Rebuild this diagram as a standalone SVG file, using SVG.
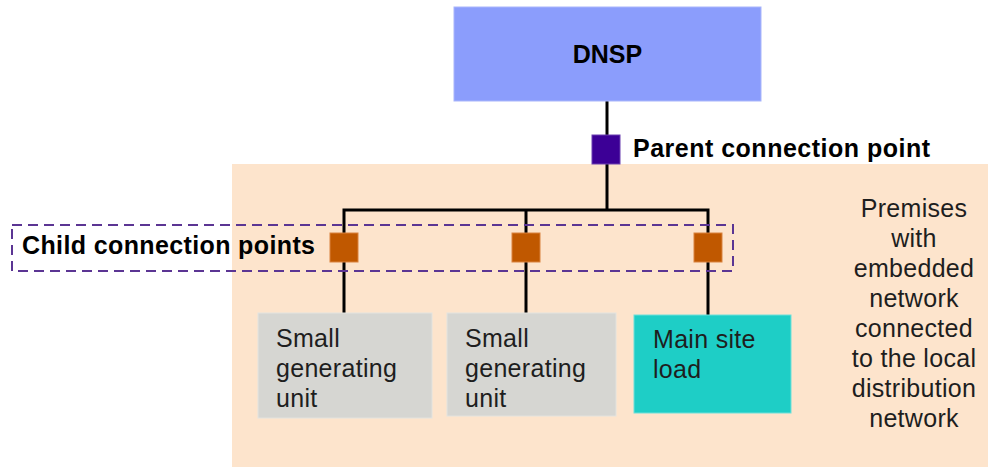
<svg xmlns="http://www.w3.org/2000/svg" width="988" height="467" viewBox="0 0 988 467">
<style>
.b{font-family:"Liberation Sans",Arial,sans-serif;font-weight:bold;font-size:25px;fill:#000}
.r{font-family:"Liberation Sans",Arial,sans-serif;font-size:25px;fill:#1e1e1e;letter-spacing:0.3px}
.w{stroke:#000;stroke-width:3;fill:none}
.cp{fill:#c05800;stroke:#d9823f;stroke-width:1}
</style>
<rect width="988" height="467" fill="#fff"/>
<g id="premises">
<rect x="232" y="164" width="756" height="303" fill="#fde4cc"/>
<text class="r" text-anchor="middle"><tspan x="914" y="217">Premises</tspan><tspan x="914" y="247">with</tspan><tspan x="914" y="277">embedded</tspan><tspan x="914" y="307">network</tspan><tspan x="914" y="337">connected</tspan><tspan x="914" y="367">to the local</tspan><tspan x="914" y="397">distribution</tspan><tspan x="914" y="427">network</tspan></text>
</g>
<g id="connectors">
<line class="w" x1="607" y1="101" x2="607" y2="210"/>
<polyline class="w" points="344,313 344,210 708,210 708,315"/>
<line class="w" x1="526" y1="210" x2="526" y2="313"/>
</g>
<g id="child-group">
<rect x="12" y="225" width="721" height="46" fill="none" stroke="#5b3593" stroke-width="2" stroke-dasharray="10 6"/>
<text class="b" x="22" y="254" textLength="293" lengthAdjust="spacing">Child connection points</text>
</g>
<g id="dnsp">
<rect x="454" y="7" width="307" height="94" fill="#8b9dfc" stroke="#a9b6fb" stroke-width="1"/>
<text class="b" x="607.5" y="63" text-anchor="middle">DNSP</text>
</g>
<g id="parent-cp">
<rect x="592" y="135" width="28" height="29" fill="#3c0096" stroke="#6a3fb0" stroke-width="1"/>
<text class="b" x="633" y="157" textLength="297" lengthAdjust="spacing">Parent connection point</text>
</g>
<g id="child-cp-1"><rect class="cp" x="330" y="233" width="28" height="29"/></g>
<g id="child-cp-2"><rect class="cp" x="512" y="233" width="28" height="29"/></g>
<g id="child-cp-3"><rect class="cp" x="694" y="233" width="28" height="29"/></g>
<g id="sgu-1">
<rect x="258" y="313" width="174" height="105" fill="#d6d6d2" stroke="#e3e3df" stroke-width="1"/>
<text class="r"><tspan x="276" y="347">Small</tspan><tspan x="276" y="377">generating</tspan><tspan x="276" y="407">unit</tspan></text>
</g>
<g id="sgu-2">
<rect x="447" y="313" width="169" height="103" fill="#d6d6d2" stroke="#e3e3df" stroke-width="1"/>
<text class="r"><tspan x="465" y="347">Small</tspan><tspan x="465" y="377">generating</tspan><tspan x="465" y="407">unit</tspan></text>
</g>
<g id="main-load">
<rect x="634" y="315" width="157" height="98" fill="#1ecec6" stroke="#6fe0da" stroke-width="1"/>
<text class="r" fill="#0a1a1a"><tspan x="653" y="348">Main site</tspan><tspan x="653" y="378">load</tspan></text>
</g>
</svg>
